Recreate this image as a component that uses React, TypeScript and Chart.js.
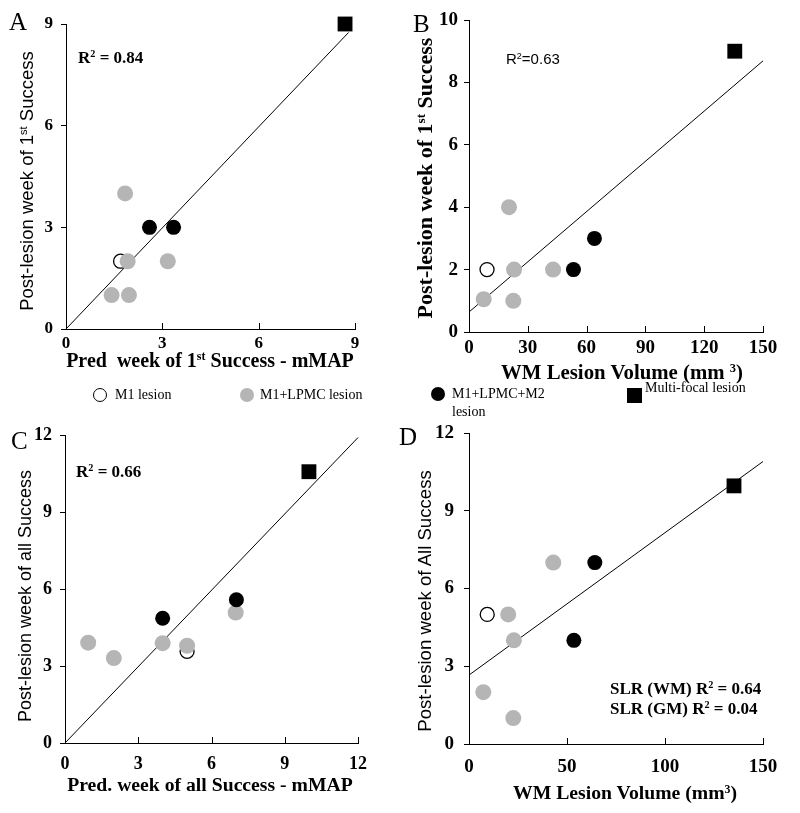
import React, { useEffect, useRef } from "react";
import { Chart, registerables } from "chart.js";

Chart.register(...registerables);
Chart.defaults.color = "#000";

// ---------- Panel A : observed vs predicted week of 1st success ----------
const aM1X = [1.7];
const aM1Y = [2];
const aLpmcX = [1.84, 1.92, 1.42, 1.96, 3.17];
const aLpmcY = [4, 2, 1, 1, 2];
const aM2X = [2.6, 3.35];
const aM2Y = [3, 3];
const aMultiX = [8.69];
const aMultiY = [9];
const aFitX = [0, 8.8];
const aFitY = [0, 8.75];

// ---------- Panel B : week of 1st success vs WM lesion volume ----------
const bM1X = [9.2];
const bM1Y = [2];
const bLpmcX = [20.4, 23, 7.5, 22.6, 42.9];
const bLpmcY = [4, 2, 1.05, 1, 2];
const bM2X = [53.3, 64];
const bM2Y = [2, 3];
const bMultiX = [135.6];
const bMultiY = [9];
const bFitX = [0, 150];
const bFitY = [0.64, 8.69];

// ---------- Panel C : observed vs predicted week of all success ----------
const cM1X = [5.0];
const cM1Y = [3.57];
const cLpmcX = [0.95, 2.0, 4.0, 5.0, 6.99];
const cLpmcY = [3.91, 3.31, 3.89, 3.79, 5.08];
const cM2X = [4.0, 7.02];
const cM2Y = [4.86, 5.58];
const cMultiX = [9.99];
const cMultiY = [10.57];
const cFitX = [0, 12];
const cFitY = [0, 11.9];

// ---------- Panel D : week of all success vs WM lesion volume ----------
const dM1X = [9.3];
const dM1Y = [5];
const dLpmcX = [20, 22.9, 43, 7.3, 22.6];
const dLpmcY = [5, 4, 7, 2, 1];
const dM2X = [64.2, 53.5];
const dM2Y = [7, 4];
const dMultiX = [135.2];
const dMultiY = [9.96];
const dFitX = [0, 150];
const dFitY = [2.66, 10.9];

// Axis ranges / ticks
const aXTicks = [0, 3, 6, 9];
const aYTicks = [0, 3, 6, 9];
const bXTicks = [0, 30, 60, 90, 120, 150];
const bYTicks = [0, 2, 4, 6, 8, 10];
const cXTicks = [0, 3, 6, 9, 12];
const cYTicks = [0, 3, 6, 9, 12];
const dXTicks = [0, 50, 100, 150];
const dYTicks = [0, 3, 6, 9, 12];

const legendLabels = ["M1 lesion", "M1+LPMC lesion", "M1+LPMC+M2", "Multi-focal lesion"];

const SERIF = "'Liberation Serif', 'Times New Roman', 'DejaVu Serif', serif";
const SANS = "'Liberation Sans', Arial, 'DejaVu Sans', sans-serif";
const GREY = "#b5b5b5";

const zip = (xs: number[], ys: number[]) => xs.map((x, i) => ({ x, y: ys[i] }));

type Spec = {
  left: number; top: number; w: number; h: number;
  area: { l: number; t: number; r: number; b: number };
  m1: [number[], number[]]; lp: [number[], number[]]; m2: [number[], number[]];
  mf: [number[], number[]]; fit: [number[], number[]];
  xTicks: number[]; yTicks: number[];
  tickSize: number; xPad: number; yPad: number;
};

const inwardTicks = {
  id: "inwardTicks",
  afterDraw(chart: any) {
    const { ctx, chartArea } = chart;
    const x = chart.scales.x;
    ctx.save();
    ctx.strokeStyle = "#000";
    ctx.lineWidth = 1;
    x.ticks.forEach((t: any) => {
      const px = Math.round(x.getPixelForValue(t.value)) + 0.5;
      ctx.beginPath();
      ctx.moveTo(px, chartArea.bottom);
      ctx.lineTo(px, chartArea.bottom - 6);
      ctx.stroke();
    });
    ctx.restore();
  },
};

function buildConfig(s: Spec): any {
  const ticksFrom = (vals: number[]) => (scale: any) => {
    scale.ticks = vals.map((v) => ({ value: v }));
  };
  const tickFont = { family: SERIF, weight: "bold", size: s.tickSize };
  return {
    type: "scatter",
    data: {
      datasets: [
        {
          data: zip(s.mf[0], s.mf[1]), pointStyle: "rect", pointRadius: 10.5,
          backgroundColor: "#000", borderColor: "#000", borderWidth: 0, order: 0, clip: false,
        },
        {
          data: zip(s.m2[0], s.m2[1]), pointRadius: 7.5,
          backgroundColor: "#000", borderColor: "#000", borderWidth: 0, order: 1, clip: false,
        },
        {
          data: zip(s.lp[0], s.lp[1]), pointRadius: 8,
          backgroundColor: GREY, borderColor: GREY, borderWidth: 0, order: 2, clip: false,
        },
        {
          data: zip(s.m1[0], s.m1[1]), pointRadius: 7,
          backgroundColor: "#fff", borderColor: "#000", borderWidth: 1.3, order: 3, clip: false,
        },
        {
          data: zip(s.fit[0], s.fit[1]), showLine: true, pointRadius: 0,
          borderColor: "#000", borderWidth: 1, order: 4, clip: false,
        },
      ],
    },
    options: {
      responsive: false,
      animation: false,
      devicePixelRatio: 1,
      events: [],
      layout: {
        padding: { left: 0, top: s.area.t, right: s.w - s.area.r, bottom: 0 },
      },
      plugins: { legend: { display: false }, tooltip: { enabled: false } },
      scales: {
        x: {
          type: "linear",
          min: s.xTicks[0],
          max: s.xTicks[s.xTicks.length - 1],
          afterBuildTicks: ticksFrom(s.xTicks),
          afterFit: (sc: any) => { sc.height = s.h - s.area.b; },
          grid: { display: false, drawTicks: false },
          border: { display: true, color: "#000", width: 1 },
          ticks: { font: tickFont, color: "#000", padding: s.xPad, maxRotation: 0, autoSkip: false },
        },
        y: {
          type: "linear",
          min: s.yTicks[0],
          max: s.yTicks[s.yTicks.length - 1],
          afterBuildTicks: ticksFrom(s.yTicks),
          afterFit: (sc: any) => { sc.width = s.area.l; },
          grid: { display: true, drawOnChartArea: false, drawTicks: true, tickLength: 5, color: "#000" },
          border: { display: true, color: "#000", width: 1 },
          ticks: { font: tickFont, color: "#000", padding: s.yPad, autoSkip: false },
        },
      },
    },
    plugins: [inwardTicks],
  };
}

const specA: Spec = {
  left: 0, top: 0, w: 400, h: 400, area: { l: 66, t: 24, r: 355, b: 329 },
  m1: [aM1X, aM1Y], lp: [aLpmcX, aLpmcY], m2: [aM2X, aM2Y], mf: [aMultiX, aMultiY], fit: [aFitX, aFitY],
  xTicks: aXTicks, yTicks: aYTicks, tickSize: 17, xPad: 4, yPad: 8,
};
const specB: Spec = {
  left: 400, top: 0, w: 400, h: 400, area: { l: 69, t: 20, r: 363, b: 332 },
  m1: [bM1X, bM1Y], lp: [bLpmcX, bLpmcY], m2: [bM2X, bM2Y], mf: [bMultiX, bMultiY], fit: [bFitX, bFitY],
  xTicks: bXTicks, yTicks: bYTicks, tickSize: 19, xPad: 5, yPad: 6,
};
const specC: Spec = {
  left: 0, top: 400, w: 400, h: 413, area: { l: 65, t: 35, r: 358, b: 343 },
  m1: [cM1X, cM1Y], lp: [cLpmcX, cLpmcY], m2: [cM2X, cM2Y], mf: [cMultiX, cMultiY], fit: [cFitX, cFitY],
  xTicks: cXTicks, yTicks: cYTicks, tickSize: 18, xPad: 11, yPad: 8,
};
const specD: Spec = {
  left: 400, top: 400, w: 400, h: 413, area: { l: 69, t: 33, r: 363, b: 344 },
  m1: [dM1X, dM1Y], lp: [dLpmcX, dLpmcY], m2: [dM2X, dM2Y], mf: [dMultiX, dMultiY], fit: [dFitX, dFitY],
  xTicks: dXTicks, yTicks: dYTicks, tickSize: 19, xPad: 12, yPad: 10,
};

function Panel({ spec }: { spec: Spec }) {
  const ref = useRef<HTMLCanvasElement | null>(null);
  useEffect(() => {
    if (!ref.current) return;
    const chart = new Chart(ref.current, buildConfig(spec));
    return () => chart.destroy();
  }, [spec]);
  return (
    <canvas
      ref={ref}
      width={spec.w}
      height={spec.h}
      style={{ position: "absolute", left: spec.left, top: spec.top, width: spec.w, height: spec.h }}
    />
  );
}

const Sup = ({ children }: { children: React.ReactNode }) => (
  <sup style={{ fontSize: "0.6em", verticalAlign: "0.55em", lineHeight: 0 }}>{children}</sup>
);

type TProps = {
  x: number; y: number; size: number; family?: string; bold?: boolean;
  align?: "left" | "center"; rotate?: boolean; sx?: number; children: React.ReactNode;
};
function T({ x, y, size, family = SERIF, bold = false, align = "left", rotate = false, sx = 1, children }: TProps) {
  const tx = align === "center" ? "-50%" : "0";
  const transform = rotate
    ? `translate(-50%, -50%) rotate(-90deg) scaleX(${sx})`
    : `translate(${tx}, -50%) scaleX(${sx})`;
  return (
    <div
      style={{
        position: "absolute", left: x, top: y, transform,
        transformOrigin: align === "center" || rotate ? "center" : "left center",
        fontFamily: family, fontSize: size, fontWeight: bold ? "bold" : "normal",
        lineHeight: 1, whiteSpace: "nowrap", color: "#000",
      }}
    >
      {children}
    </div>
  );
}

const Marker = ({ x, y, kind }: { x: number; y: number; kind: "open" | "grey" | "black" | "square" }) => {
  const base: React.CSSProperties = { position: "absolute", boxSizing: "border-box" };
  if (kind === "square") {
    return <div style={{ ...base, left: x - 7.5, top: y - 7.5, width: 15, height: 15, background: "#000" }} />;
  }
  const bg = kind === "open" ? "#fff" : kind === "grey" ? GREY : "#000";
  return (
    <div
      style={{
        ...base, left: x - 7, top: y - 7, width: 14, height: 14, borderRadius: "50%", background: bg,
        border: kind === "open" ? "1.3px solid #000" : "none",
      }}
    />
  );
};

export default function App() {
  return (
    <div style={{ position: "absolute", left: 0, top: 0, width: 800, height: 813, background: "#fff", overflow: "hidden" }}>
      <Panel spec={specA} />
      <Panel spec={specB} />
      <Panel spec={specC} />
      <Panel spec={specD} />

      {/* panel letters */}
      <T x={9} y={21} size={25}>A</T>
      <T x={413} y={23} size={25}>B</T>
      <T x={11} y={440} size={25}>C</T>
      <T x={399} y={436} size={25}>D</T>

      {/* annotations */}
      <T x={78} y={57} size={17} bold>R<Sup>2</Sup> = 0.84</T>
      <T x={506} y={58} size={15} family={SANS}>R<Sup>2</Sup>=0.63</T>
      <T x={76} y={471} size={17} bold>R<Sup>2</Sup> = 0.66</T>
      <T x={610} y={688} size={17} bold>SLR (WM) R<Sup>2</Sup> = 0.64</T>
      <T x={610} y={708} size={17} bold>SLR (GM) R<Sup>2</Sup> = 0.04</T>

      {/* y-axis titles */}
      <T x={27} y={181} size={18.5} family={SANS} rotate>Post-lesion week of 1<Sup>st</Sup> Success</T>
      <T x={425} y={178} size={22} bold rotate>Post-lesion week of 1<Sup>st</Sup> Success</T>
      <T x={25} y={596} size={18} family={SANS} rotate>Post-lesion week of all Success</T>
      <T x={425} y={601} size={18.6} family={SANS} rotate>Post-lesion week of All Success</T>

      {/* x-axis titles */}
      <T x={210} y={360} size={20} bold align="center">Pred&nbsp; week of 1<Sup>st</Sup> Success - mMAP</T>
      <T x={622} y={372} size={20.8} bold align="center">WM Lesion Volume (mm <Sup>3</Sup>)</T>
      <T x={210} y={785} size={19.7} bold align="center">Pred. week of all Success - mMAP</T>
      <T x={625} y={793} size={19.7} bold align="center">WM Lesion Volume (mm<Sup>3</Sup>)</T>

      {/* legend */}
      <Marker x={100} y={395} kind="open" />
      <T x={115} y={395} size={14}>{legendLabels[0]}</T>
      <Marker x={247} y={395} kind="grey" />
      <T x={260} y={395} size={14}>{legendLabels[1]}</T>
      <Marker x={438} y={394} kind="black" />
      <T x={452} y={394} size={14}>{legendLabels[2]}</T>
      <T x={452} y={412} size={14}>lesion</T>
      <Marker x={634} y={395} kind="square" />
      <T x={645} y={388} size={14}>{legendLabels[3]}</T>
    </div>
  );
}
